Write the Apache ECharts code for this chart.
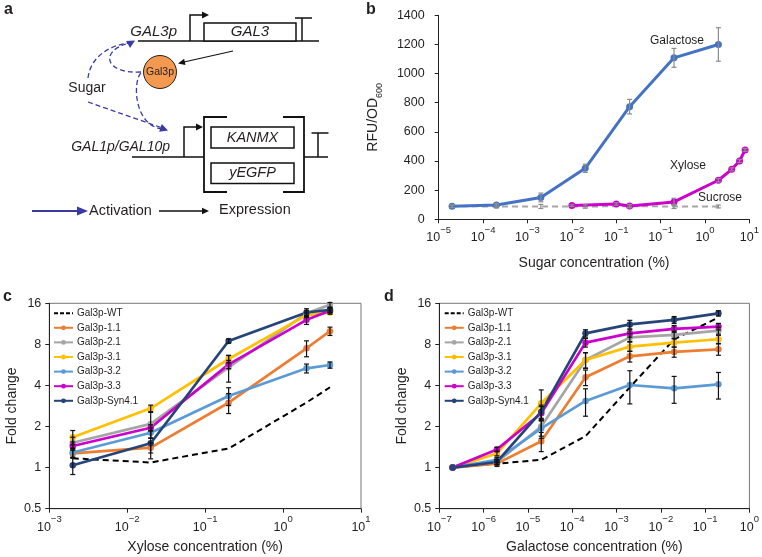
<!DOCTYPE html>
<html><head><meta charset="utf-8">
<script src="https://cdn.jsdelivr.net/npm/echarts@6/dist/echarts.min.js"></script>
<style>html,body{margin:0;padding:0;background:#fff}#c{width:762px;height:557px}</style>
</head><body><div id="c"></div>
<script>
// ---------- tick labels ----------
const bTickExp = ['−5','−4','−3','−2','−1','−1','0','1'];
const cTickExp = ['−3','−2','−1','0','1'];
const dTickExp = ['−7','−6','−5','−4','−3','−2','−1','0'];
const foldTicks = ['0.5','1','2','4','8','16'];
const seriesNames = ['Gal3p-WT','Gal3p-1.1','Gal3p-2.1','Gal3p-3.1','Gal3p-3.2','Gal3p-3.3','Gal3p-Syn4.1'];

// ---------- panel b (axis positions) ----------
const galactoseX = [2e-5, 2e-4, 2e-3, 2e-2, 2e-1, 2, 20];
const galactoseY = [90, 98, 150, 350, 773, 1108, 1200];
const galactoseErr = [10, 12, 30, 28, 50, 65, 115];
const sucroseX = [2e-5, 2e-4, 2e-3, 2e-2, 2e-1, 2, 20];
const sucroseY = [90, 88, 88, 88, 90, 88, 88];
const sucroseErr = [8, 10, 14, 12, 12, 14, 10];
const xyloseX = [1e-2, 1e-1, 2e-1, 2, 20, 40, 60, 80];
const xyloseY = [94, 105, 92, 119, 268, 343, 400, 476];
const xyloseErr = [6, 8, 8, 25, 12, 10, 10, 10];

// ---------- panel c ----------
const cX = [0.002, 0.02, 0.2, 2, 4];
const cWT  = [1.17, 1.09, 1.38, 3.0, 3.88];
const c11  = [1.27, 1.40, 2.99, 7.49, 10.0];
const c21  = [1.52, 2.09, 5.43, 13.5, 15.6];
const c31  = [1.67, 2.72, 6.25, 13.1, 13.7];
const c32  = [1.29, 1.80, 3.35, 5.34, 5.65];
const c33  = [1.44, 1.96, 5.71, 12.1, 14.1];
const cSyn = [1.04, 1.51, 8.47, 13.7, 14.3];
const cE11  = [0.10, 0.12, 0.5, 1.0, 0.7];
const cE21  = [0.15, 0.45, 1.2, 0.6, 0.6];
const cE31  = [0.20, 0.15, 0.4, 0.5, 0.4];
const cE32  = [0.10, 0.15, 0.5, 0.4, 0.3];
const cE33  = [0.10, 0.10, 0.4, 0.9, 0.5];
const cESyn = [0.15, 0.35, 0.3, 0.9, 0.6];

// ---------- panel d ----------
const dX = [2e-7, 2e-6, 2e-5, 2e-4, 2e-3, 2e-2, 2e-1];
const dWT  = [1.0, 1.07, 1.14, 1.70, 3.88, 8.72, 12.6];
const d11  = [1.0, 1.07, 1.56, 4.59, 6.54, 7.04, 7.36];
const d21  = [1.0, 1.10, 2.00, 6.15, 9.01, 9.38, 10.1];
const d31  = [1.0, 1.27, 2.96, 6.15, 7.70, 8.24, 8.72];
const d32  = [1.0, 1.14, 1.94, 3.08, 4.03, 3.81, 4.08];
const d33  = [1.0, 1.36, 2.50, 8.24, 9.64, 10.4, 10.8];
const dSyn = [1.0, 1.10, 2.57, 9.64, 11.2, 12.1, 13.5];
const dE11  = [0, 0.05, 0.25, 0.6, 0.6, 0.6, 0.7];
const dE21  = [0, 0.05, 0.30, 0.8, 0.6, 0.6, 0.6];
const dE31  = [0, 0.05, 0.75, 0.8, 0.6, 0.6, 0.6];
const dE32  = [0, 0.05, 0.30, 0.7, 1.1, 0.85, 0.9];
const dE33  = [0, 0.05, 0.30, 0.6, 0.6, 0.6, 0.6];
const dESyn = [0, 0.05, 0.30, 0.6, 0.8, 0.7, 0.6];

const FONT = '"Liberation Sans", Arial, Helvetica, sans-serif';
const TXT = '#231f20';
const colors = ['#000000','#ED7D31','#A5A5A5','#FFC000','#5B9BD5','#CC00CC','#264478'];

const chart = echarts.init(document.getElementById('c'), null, {renderer:'canvas'});

function zip(xs, ys){ return xs.map((x,i)=>[x, ys[i]]); }
function zip3(xs, ys, es){ return xs.map((x,i)=>[x, ys[i], es[i]]); }

function errSeries(xs, ys, es, idx, color){
  return {
    type:'custom', xAxisIndex: idx, yAxisIndex: idx, z: 5, silent: true,
    data: zip3(xs, ys, es), encode: {x:0, y:1},
    renderItem: function(params, api){
      const x = api.value(0), y = api.value(1), e = api.value(2);
      if (!e) return null;
      const lo = api.coord([x, y - e]);
      const hi = api.coord([x, y + e]);
      const cw = 2.5;
      const st = {stroke: color, lineWidth: 1.2};
      return {type:'group', children:[
        {type:'line', shape:{x1:lo[0], y1:lo[1], x2:hi[0], y2:hi[1]}, style: st},
        {type:'line', shape:{x1:lo[0]-cw, y1:lo[1], x2:lo[0]+cw, y2:lo[1]}, style: st},
        {type:'line', shape:{x1:hi[0]-cw, y1:hi[1], x2:hi[0]+cw, y2:hi[1]}, style: st}
      ]};
    }
  };
}

function lineSeries(name, xs, ys, idx, color, opts){
  opts = opts || {};
  return Object.assign({
    type:'line', name: name, xAxisIndex: idx, yAxisIndex: idx,
    data: zip(xs, ys), symbol:'circle', symbolSize: 6.5,
    itemStyle:{color: color}, lineStyle:{color: color, width: 2.7},
    z: 3, animation: false
  }, opts);
}

const powRich = {
  b: {fontSize: 12.5, fontFamily: FONT, color: TXT, lineHeight: 19, verticalAlign: 'bottom'},
  s: {fontSize: 9.5, fontFamily: FONT, color: TXT, lineHeight: 10, verticalAlign: 'top'}
};
function powFmt(arr, offset){
  return function(v){
    const i = Math.round(Math.log10(v)) + offset;
    return '{b|10}{s|' + arr[i] + '}';
  };
}

function xLog(idx, min, max, arr, offset, name, gap){
  return {
    type:'log', logBase:10, gridIndex: idx, min: min, max: max, splitNumber: 7,
    axisLine:{show:true, onZero:false, lineStyle:{color:'#222', width:1}},
    axisTick:{show:true, length:4, lineStyle:{color:'#222'}},
    minorTick:{show:false}, splitLine:{show:false},
    axisLabel:{formatter: powFmt(arr, offset), rich: powRich, margin: 6},
    name: name, nameLocation:'middle', nameGap: gap,
    nameTextStyle:{fontSize:14, color: TXT, fontFamily: FONT}
  };
}
function yFold(idx){
  return {
    type:'log', logBase:2, gridIndex: idx, min:0.5, max:16, splitNumber:5,
    axisLine:{show:true, onZero:false, lineStyle:{color:'#222', width:1}},
    axisTick:{show:true, length:4, lineStyle:{color:'#222'}},
    minorTick:{show:false}, splitLine:{show:false},
    axisLabel:{fontSize:12.5, color:TXT, fontFamily:FONT, margin: 8,
      formatter: function(v){ return foldTicks[Math.round(Math.log2(v)) + 1]; }},
    name:'Fold change', nameLocation:'middle', nameGap: 30,
    nameTextStyle:{fontSize:14, color: TXT, fontFamily: FONT}
  };
}

// ---------- diagram helpers (panel a) ----------
const BLUE = '#3a3aa3';
function gl(x1,y1,x2,y2,color,w,dash){
  return {type:'line', silent:true, shape:{x1,y1,x2,y2}, style:{stroke:color, lineWidth:w, lineDash: dash || null}};
}
function gpoly(points,color,w){
  return {type:'polyline', silent:true, shape:{points}, style:{stroke:color, lineWidth:w, fill:null}};
}
function ghead(tx,ty,dx,dy,len,hw,color){
  const n = Math.hypot(dx,dy); dx/=n; dy/=n;
  const bx = tx - dx*len, by = ty - dy*len;
  const px = -dy*hw, py = dx*hw;
  return {type:'polygon', silent:true, shape:{points:[[tx,ty],[bx+px,by+py],[bx-px,by-py]]}, style:{fill:color, stroke:null}};
}
function gbez(x1,y1,c1x,c1y,c2x,c2y,x2,y2,color,w,dash){
  return {type:'bezierCurve', silent:true, shape:{x1,y1,cpx1:c1x,cpy1:c1y,cpx2:c2x,cpy2:c2y,x2,y2},
    style:{stroke:color, lineWidth:w, lineDash:dash, fill:null}};
}
function gtext(x,y,text,size,opts){
  opts = opts || {};
  return {type:'text', silent:true, x:x, y:y, z: 10, style:{text:text, fill: opts.fill || TXT,
    font: (opts.style||'normal') + ' ' + (opts.weight||'normal') + ' ' + size + 'px ' + FONT,
    textAlign: opts.align || 'center', textVerticalAlign: 'middle'}};
}
function grect(x,y,w,h){
  return {type:'rect', silent:true, shape:{x,y,width:w,height:h}, style:{stroke:'#111', lineWidth:1.5, fill:'#fff'}};
}

const K = '#111';
const dash = [5,3];
const diagram = [
  // top construct
  gl(138,41,319,41,K,1.5),
  gpoly([[190,41],[190,15],[203,15]],K,1.5), ghead(209,15,1,0,7,3.5,K),
  grect(204,23,92,18), gtext(250,32,'GAL3',15,{style:'italic'}),
  gl(302,41,302,18,K,1.5), gl(295,18,312,18,K,1.5),
  gtext(177,32,'GAL3p',15,{style:'italic', align:'right'}),
  // Gal3p protein
  {type:'circle', silent:true, shape:{cx:160, cy:72, r:16.5}, style:{fill:'#F39A50', stroke:'#222', lineWidth:1}},
  gtext(160,72,'Gal3p',10.5),
  gl(233,51,184,62,K,1.2), ghead(178,63.5,-0.975,0.22,7,3.2,K),
  // sugar + activation arrows
  gtext(87,88,'Sugar',14),
  gbez(88,78,90,60,105,46,129,43,BLUE,1.3,dash),
  gbez(141,72,105,74,100,52,126,44,BLUE,1.3,dash),
  ghead(135,40.5,0.87,-0.5,8,4,BLUE),
  gbez(141,73,133,80,133,125,162,129,BLUE,1.3,dash),
  gl(88,102,161,127.5,BLUE,1.3,dash),
  ghead(168,130.5,0.944,0.33,8,4,BLUE),
  // lower construct
  gtext(170,147,'GAL1p/GAL10p',14,{style:'italic', align:'right'}),
  gl(132,157,204,157,K,1.5), gl(304,157,328,157,K,1.5),
  gpoly([[184,157],[184,127],[197,127]],K,1.5), ghead(203,127,1,0,7,3.5,K),
  gpoly([[227,117],[204,117],[204,192],[227,192]],K,1.8),
  gpoly([[283,117],[304,117],[304,192],[283,192]],K,1.8),
  grect(211,127,83,21), gtext(252.5,137.5,'KANMX',14.5,{style:'italic'}),
  grect(211,163,83,20.5), gtext(252.5,173,'yEGFP',14.5,{style:'italic'}),
  gl(318,157,318,133,K,1.5), gl(311.5,133,328.5,133,K,1.5),
  // key
  gl(32,211,78,211,BLUE,2), ghead(88,211,1,0,11,4.5,BLUE),
  gtext(89,210.5,'Activation',14.5,{align:'left'}),
  gl(159,211,203,211,K,1.3), ghead(209,211,1,0,7,3.2,K),
  gtext(219,209.5,'Expression',14.5,{align:'left'}),
  // panel letters
  gtext(4,9.5,'a',16,{weight:'bold', align:'left'}),
  gtext(366,9.5,'b',16,{weight:'bold', align:'left'}),
  gtext(3,297,'c',16,{weight:'bold', align:'left'}),
  gtext(384,297,'d',16,{weight:'bold', align:'left'}),
  // panel b annotations
  gtext(677,41,'Galactose',12),
  gtext(688,166,'Xylose',12),
  gtext(720,198,'Sucrose',12)
];

const legendData = seriesNames.map(function(nm, k){
  if (k === 0) return {name: nm, itemStyle:{color:'transparent', borderWidth:0, opacity:0},
                       lineStyle:{color:'#000', width:2, type:[4,2]}};
  return {name: nm};
});
const legendBase = {
  data: legendData, orient:'vertical', itemWidth: 19, itemHeight: 6, itemGap: 2.6, padding: 0,
  textStyle:{fontSize: 10, lineHeight: 12, color: TXT, fontFamily: FONT, padding:[0,0,0,-1]},
  selectedMode: false, backgroundColor:'transparent'
};

const cYs = [cWT, c11, c21, c31, c32, c33, cSyn];
const cEs = [null, cE11, cE21, cE31, cE32, cE33, cESyn];
const dYs = [dWT, d11, d21, d31, d32, d33, dSyn];
const dEs = [null, dE11, dE21, dE31, dE32, dE33, dESyn];

const series = [];
// panel b
series.push(lineSeries('Sucrose', sucroseX, sucroseY, 0, '#A6A6A6', {symbol:'none', lineStyle:{color:'#A6A6A6', width:2, type:[6,4]}, z:2}));
series.push(errSeries(sucroseX, sucroseY, sucroseErr, 0, '#8c8c8c'));
series.push(lineSeries('Galactose', galactoseX, galactoseY, 0, '#4472C4', {symbolSize:7, lineStyle:{color:'#4472C4', width:3}}));
series.push(lineSeries('Xylose', xyloseX, xyloseY, 0, '#CC00CC', {symbolSize:7, lineStyle:{color:'#CC00CC', width:3}}));
series.push(errSeries(galactoseX, galactoseY, galactoseErr, 0, '#8c8c8c'));
series.push(errSeries(xyloseX, xyloseY, xyloseErr, 0, '#8c8c8c'));
// panels c, d
[[1, cX, cYs, cEs],[2, dX, dYs, dEs]].forEach(function(p){
  const idx = p[0], xs = p[1], ys = p[2], es = p[3];
  seriesNames.forEach(function(nm, k){
    if (k === 0) {
      series.push(lineSeries(nm, xs, ys[k], idx, '#000', {symbol:'none', showSymbol:false,
        lineStyle:{color:'#000', width:2, type:[6,4]}, z:2}));
    } else {
      series.push(lineSeries(nm, xs, ys[k], idx, colors[k]));
    }
  });
  seriesNames.forEach(function(nm, k){
    if (es[k]) series.push(errSeries(xs, ys[k], es[k], idx, '#111'));
  });
});

const option = {
  animation: false,
  textStyle:{fontFamily: FONT},
  grid: [
    {left:438.7, top:15.3, width:311.3, height:204},
    {left:49.3, top:303.3, width:311.7, height:205.4, show:true, borderColor:'#777', borderWidth:1},
    {left:439.3, top:303.3, width:311, height:205.4, show:true, borderColor:'#777', borderWidth:1}
  ],
  xAxis: [
    xLog(0, 1e-5, 1e2, bTickExp, 5, 'Sugar concentration (%)', 37),
    xLog(1, 1e-3, 1e1, cTickExp, 3, 'Xylose concentration (%)', 31),
    xLog(2, 1e-7, 1e0, dTickExp, 7, 'Galactose concentration (%)', 31)
  ],
  yAxis: [
    {type:'value', gridIndex:0, min:0, max:1400, interval:200,
     axisLine:{show:true, lineStyle:{color:'#222'}}, axisTick:{show:true, length:4, lineStyle:{color:'#222'}},
     splitLine:{show:false},
     axisLabel:{fontSize:12.5, color:TXT, fontFamily:FONT, margin:14, formatter: function(v){ return String(v); }},
     name:'{a|RFU/OD}{s|600}', nameLocation:'middle', nameGap: 55,
     nameTextStyle:{rich:{
       a:{fontSize:14, color:TXT, fontFamily:FONT, lineHeight:18, verticalAlign:'top'},
       s:{fontSize:9, color:TXT, fontFamily:FONT, lineHeight:10, verticalAlign:'bottom'}}}},
    yFold(1), yFold(2)
  ],
  legend: [
    Object.assign({}, legendBase, {left: 53, top: 307.2}),
    Object.assign({}, legendBase, {left: 443.7, top: 307.2})
  ],
  series: series,
  graphic: {elements: diagram}
};
chart.setOption(option);
</script>
</body></html>
